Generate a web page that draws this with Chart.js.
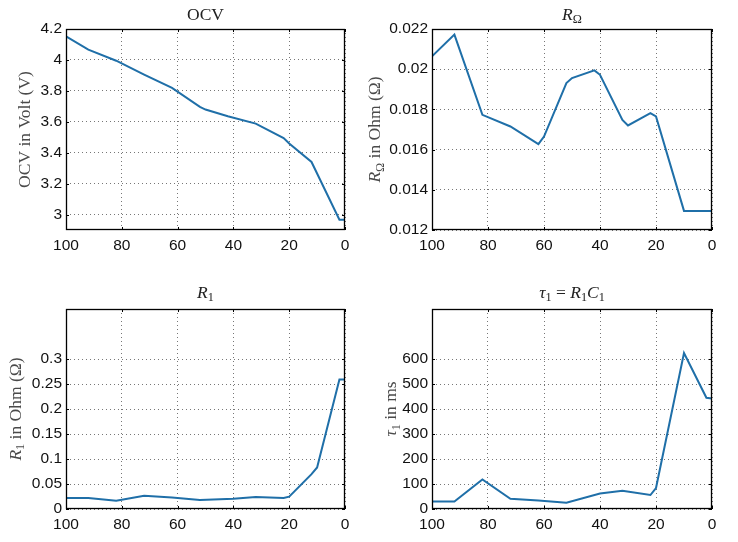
<!DOCTYPE html>
<html>
<head>
<meta charset="utf-8">
<script src="https://cdn.jsdelivr.net/npm/chart.js@4.4.0/dist/chart.umd.min.js"></script>
<style>
  html, body { margin: 0; padding: 0; background: #fff; }
  #wrap { position: relative; width: 738px; height: 542px; overflow: hidden; }
  canvas { position: absolute; }
</style>
</head>
<body>
<div id="wrap">
  <canvas id="ocvChart" width="360" height="271" style="left:0;top:0"></canvas>
  <canvas id="roChart" width="378" height="271" style="left:360px;top:0"></canvas>
  <canvas id="r1Chart" width="360" height="271" style="left:0;top:271px"></canvas>
  <canvas id="tauChart" width="378" height="271" style="left:360px;top:271px"></canvas>
</div>
<script>
// --- data (SOC in %) ---
const socTicks = [0, 20, 40, 60, 80, 100];

const socOcv = [100, 92, 82, 72, 62, 52, 50, 42, 32, 22, 20, 12, 2, 0];
const ocv = [4.152, 4.066, 3.995, 3.905, 3.819, 3.696, 3.679, 3.636, 3.588, 3.495, 3.46, 3.34, 2.967, 2.967];
const ocvTicks = [3, 3.2, 3.4, 3.6, 3.8, 4, 4.2];

const socRo = [100, 92, 82, 72, 62, 60, 52, 50, 42, 40, 32, 30, 22, 20, 10, 0];
const ro = [0.02064, 0.02172, 0.01773, 0.01715, 0.01627, 0.01665, 0.01931, 0.01956, 0.01994, 0.01972, 0.01748, 0.0172, 0.01781, 0.01765, 0.01295, 0.01295];
const roTicks = [0.012, 0.014, 0.016, 0.018, 0.02, 0.022];

const socR1 = [100, 92, 82, 72, 62, 52, 40, 32, 22, 20, 12, 10, 2, 0];
const r1 = [0.0219, 0.022, 0.0166, 0.0266, 0.023, 0.018, 0.0206, 0.024, 0.022, 0.0246, 0.0697, 0.083, 0.259, 0.259];
const r1Ticks = [0, 0.05, 0.1, 0.15, 0.2, 0.25, 0.3];

const socTau = [100, 92, 82, 72, 62, 52, 40, 32, 22, 20, 10, 2, 0];
const tau = [30, 30, 118, 41, 34, 25, 62, 73, 56, 84, 624, 445, 442];
const tauTicks = [0, 100, 200, 300, 400, 500, 600];

const lineColor = '#1f6fa8';
const serif = '"Liberation Serif", "Times New Roman", serif';

// draws a row of text pieces (italic / subscript) centred on the origin
function drawRuns(ctx, runs, size) {
    const parts = runs.map(r => {
        const fs = r.sub ? size * 0.7 : size;
        const font = (r.i ? 'italic ' : '') + fs + 'px ' + serif;
        ctx.font = font;
        return { text: r.t, font, w: ctx.measureText(r.t).width, dy: r.sub ? size * 0.22 : 0 };
    });
    const total = parts.reduce((a, p) => a + p.w, 0);
    let x = -total / 2;
    parts.forEach(p => {
        ctx.font = p.font;
        ctx.fillText(p.text, x, p.dy);
        x += p.w;
    });
}

// frame, inner tick marks, title and y label
const decoPlugin = {
    id: 'deco',
    afterDraw(chart, args, opts) {
        const { ctx, chartArea: a } = chart;
        const xs = chart.scales.x, ys = chart.scales.y;
        ctx.save();
        ctx.strokeStyle = '#000';
        ctx.lineWidth = 1;
        ctx.beginPath();
        xs.ticks.forEach(t => {
            const px = Math.round(xs.getPixelForValue(t.value)) + 0.5;
            ctx.moveTo(px, a.bottom); ctx.lineTo(px, a.bottom - 3);
            ctx.moveTo(px, a.top); ctx.lineTo(px, a.top + 3);
        });
        ys.ticks.forEach(t => {
            const py = Math.round(ys.getPixelForValue(t.value)) + 0.5;
            ctx.moveTo(a.left, py); ctx.lineTo(a.left + 3, py);
            ctx.moveTo(a.right, py); ctx.lineTo(a.right - 3, py);
        });
        ctx.stroke();
        ctx.lineWidth = 1.3;
        ctx.strokeRect(a.left + 0.5, a.top + 0.5, a.right - a.left - 1, a.bottom - a.top - 1);

        ctx.textAlign = 'left';
        ctx.textBaseline = 'alphabetic';
        ctx.fillStyle = '#222';
        ctx.save();
        ctx.translate((a.left + a.right) / 2, a.top - opts.titleGap);
        drawRuns(ctx, opts.title, 17.5);
        ctx.restore();

        ctx.fillStyle = '#4a4a4a';
        ctx.save();
        ctx.translate(opts.labelX, (a.top + a.bottom) / 2);
        ctx.rotate(-Math.PI / 2);
        drawRuns(ctx, opts.ylabel, 17.5);
        ctx.restore();
        ctx.restore();
    }
};

function fmt(v) {
    return String(Math.round(v * 100000) / 100000);
}

function makeChart(id, xsData, ysData, yMin, yMax, yTicks, box, deco) {
    const tickFont = { family: '"Liberation Sans", Arial, sans-serif', size: 15.5 };
    return new Chart(document.getElementById(id), {
        type: 'line',
        data: {
            datasets: [{
                data: xsData.map((x, i) => ({ x, y: ysData[i] })),
                borderColor: lineColor,
                borderWidth: 2,
                pointRadius: 0,
                tension: 0,
                fill: false
            }]
        },
        options: {
            responsive: false,
            animation: false,
            events: [],
            layout: { padding: { top: box.top, right: box.right, left: 0, bottom: 0 } },
            plugins: { legend: { display: false }, tooltip: { enabled: false }, deco },
            scales: {
                x: {
                    type: 'linear',
                    min: 0,
                    max: 100,
                    reverse: true,
                    afterBuildTicks: s => { s.ticks = socTicks.map(v => ({ value: v })); },
                    afterFit: s => { s.height = box.xh; },
                    ticks: { font: tickFont, color: '#111', padding: 6, maxRotation: 0, callback: fmt },
                    grid: { color: '#777', lineWidth: 1, drawTicks: false },
                    border: { display: false, dash: [1, 3] }
                },
                y: {
                    type: 'linear',
                    min: yMin,
                    max: yMax,
                    afterBuildTicks: s => { s.ticks = yTicks.map(v => ({ value: v })); },
                    afterFit: s => { s.width = box.yw; },
                    ticks: { font: tickFont, color: '#111', padding: 4, callback: fmt },
                    grid: { color: '#777', lineWidth: 1, drawTicks: false },
                    border: { display: false, dash: [1, 3] }
                }
            }
        },
        plugins: [decoPlugin]
    });
}

makeChart('ocvChart', socOcv, ocv, 2.9, 4.2, ocvTicks,
    { top: 29, right: 15, yw: 66, xh: 41 },
    { title: [{ t: 'OCV' }], ylabel: [{ t: 'OCV in Volt (V)' }], titleGap: 9.5, labelX: 30 });

makeChart('roChart', socRo, ro, 0.012, 0.022, roTicks,
    { top: 29, right: 26, yw: 72, xh: 41 },
    { title: [{ t: 'R', i: 1 }, { t: 'Ω', sub: 1 }],
      ylabel: [{ t: 'R', i: 1 }, { t: 'Ω', sub: 1 }, { t: ' in Ohm (Ω)' }], titleGap: 9.5, labelX: 20 });

makeChart('r1Chart', socR1, r1, 0, 0.4, r1Ticks,
    { top: 38, right: 15, yw: 66, xh: 33 },
    { title: [{ t: 'R', i: 1 }, { t: '1', sub: 1 }],
      ylabel: [{ t: 'R', i: 1 }, { t: '1', sub: 1 }, { t: ' in Ohm (Ω)' }], titleGap: 11.5, labelX: 20.5 });

makeChart('tauChart', socTau, tau, 0, 800, tauTicks,
    { top: 38, right: 26, yw: 72, xh: 33 },
    { title: [{ t: 'τ', i: 1 }, { t: '1', sub: 1 }, { t: ' = ' }, { t: 'R', i: 1 }, { t: '1', sub: 1 }, { t: 'C', i: 1 }, { t: '1', sub: 1 }],
      ylabel: [{ t: 'τ', i: 1 }, { t: '1', sub: 1 }, { t: ' in ms' }], titleGap: 11.5, labelX: 36 });
</script>
</body>
</html>
